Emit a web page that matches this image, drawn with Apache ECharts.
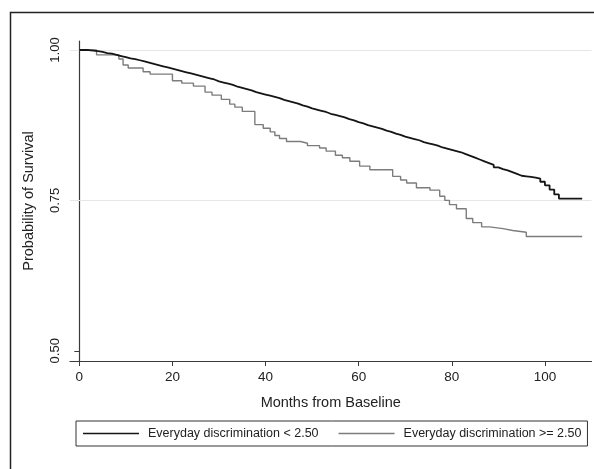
<!DOCTYPE html>
<html>
<head>
<meta charset="utf-8">
<script src="https://cdn.jsdelivr.net/npm/echarts@6/dist/echarts.min.js"></script>
<style>
  html, body { margin: 0; padding: 0; background: #fff; }
  #chart { width: 594px; height: 469px; }
</style>
</head>
<body>
<div id="chart"></div>
<script>
// Everyday discrimination < 2.50 (black)
var lowMonths = [0, 1, 2, 3, 4, 5, 6, 7, 8, 9, 10, 11, 12, 13, 14, 15, 16, 17, 18, 19,
  20, 21, 22, 23, 24, 25, 26, 27, 28, 29, 30, 31, 32, 33, 34, 35, 36, 37, 38, 39,
  40, 41, 42, 43, 44, 45, 46, 47, 48, 49, 50, 51, 52, 53, 54, 55, 56, 57, 58, 59,
  60, 61, 62, 63, 64, 65, 66, 67, 68, 69, 70, 71, 72, 73, 74, 75, 76, 77, 78, 79,
  80, 81, 82, 83, 84, 85, 86, 87, 88, 89, 90, 91, 92, 93, 94, 95, 96, 97, 98, 99,
  100, 101, 102, 103, 108];
var lowSurv = [1.000, 1.000, 0.999, 0.998, 0.997, 0.995, 0.994, 0.992, 0.990, 0.988,
  0.986, 0.985, 0.983, 0.981, 0.979, 0.977, 0.975, 0.973, 0.971, 0.969,
  0.967, 0.965, 0.963, 0.961, 0.959, 0.957, 0.955, 0.953, 0.951, 0.948,
  0.946, 0.944, 0.942, 0.939, 0.937, 0.935, 0.933, 0.930, 0.928, 0.926,
  0.924, 0.922, 0.920, 0.917, 0.915, 0.913, 0.911, 0.908, 0.906, 0.903,
  0.901, 0.899, 0.897, 0.894, 0.892, 0.890, 0.888, 0.885, 0.883, 0.880,
  0.878, 0.875, 0.873, 0.871, 0.869, 0.866, 0.864, 0.861, 0.859, 0.856,
  0.854, 0.852, 0.850, 0.847, 0.845, 0.843, 0.841, 0.838, 0.836, 0.834,
  0.832, 0.830, 0.827, 0.824, 0.821, 0.818, 0.815, 0.812, 0.809, 0.805,
  0.802, 0.800, 0.797, 0.794, 0.791, 0.790, 0.789, 0.788, 0.786, 0.781,
  0.775, 0.768, 0.760, 0.753, 0.753];

// Everyday discrimination >= 2.50 (grey)
var highMonths = [0, 3.7, 8.5, 9.4, 10.5, 13.7, 15.2, 20, 22, 24.5, 27, 28.5, 30.5, 32.3,
  33.4, 35, 37.7, 39.5, 41, 42, 43, 44.5, 47.5, 49, 51.6, 53, 55, 56.5, 58.1, 60.2,
  62.4, 67.3, 69, 70.3, 72.4, 75.3, 77.4, 78.5, 79.5, 81, 83.1, 84.5, 86.4, 88.1,
  91, 93.1, 96, 108];
var highSurv = [1.000, 0.992, 0.985, 0.975, 0.970, 0.964, 0.960, 0.949, 0.945, 0.940,
  0.930, 0.925, 0.918, 0.910, 0.905, 0.898, 0.876, 0.870, 0.864, 0.858,
  0.853, 0.848, 0.845, 0.841, 0.837, 0.832, 0.825, 0.821, 0.815, 0.807,
  0.801, 0.790, 0.784, 0.779, 0.771, 0.767, 0.757, 0.750, 0.743, 0.736,
  0.720, 0.713, 0.706, 0.703, 0.700, 0.697, 0.690, 0.690];

var xTicks = [0, 20, 40, 60, 80, 100];
var yTicks = [0.50, 0.75, 1.00];
var gridValues = [0.75, 1.00];

var seriesNames = ['Everyday discrimination < 2.50', 'Everyday discrimination >= 2.50'];

function pairs(xs, ys) {
  return xs.map(function (x, i) { return [x, ys[i]]; });
}

var font = '"Liberation Sans", Arial, sans-serif';
var axisColor = '#3a3a3a';

var chart = echarts.init(document.getElementById('chart'));
chart.setOption({
  animation: false,
  backgroundColor: '#fff',
  textStyle: { fontFamily: font },
  graphic: [{
    type: 'rect',
    left: 8, top: 10,
    shape: { width: 620, height: 480 },
    style: { fill: 'none', stroke: '#222', lineWidth: 1.5 },
    silent: true
  }],
  grid: { left: 70, right: 2.5, top: 41, bottom: 108 },
  xAxis: {
    type: 'value',
    min: -2, max: 110,
    name: 'Months from Baseline',
    nameLocation: 'middle',
    nameGap: 34,
    nameTextStyle: { fontSize: 14.5, color: '#222', fontFamily: font },
    axisLine: { lineStyle: { color: axisColor, width: 1.2 } },
    axisTick: { customValues: xTicks, length: 5, lineStyle: { color: axisColor } },
    axisLabel: { customValues: xTicks, margin: 9, fontSize: 13.5, color: '#222', fontFamily: font },
    splitLine: { show: false }
  },
  yAxis: {
    type: 'value',
    min: 0.483, max: 1.015,
    name: 'Probability of Survival',
    nameLocation: 'middle',
    nameRotate: 90,
    nameGap: 34,
    nameTextStyle: { fontSize: 14.5, color: '#222', fontFamily: font },
    axisLine: { show: true, lineStyle: { color: axisColor, width: 1.2 } },
    axisTick: { show: true, customValues: yTicks, length: 5, lineStyle: { color: axisColor } },
    axisLabel: {
      customValues: yTicks, rotate: 90, margin: 8, fontSize: 13, color: '#222', fontFamily: font,
      formatter: function (v) { return v.toFixed(2); }
    },
    splitLine: { show: false }
  },
  legend: {
    left: 76, top: 421,
    padding: [6, 6, 6, 7],
    borderColor: '#333', borderWidth: 1,
    itemWidth: 56, itemHeight: 1.5, itemGap: 20,
    icon: 'rect',
    textStyle: { fontSize: 12.5, color: '#222', fontFamily: font, padding: [0, 0, 0, 4] },
    data: seriesNames
  },
  series: [{
    name: seriesNames[0],
    type: 'line',
    step: 'end',
    symbol: 'none',
    color: '#151515',
    lineStyle: { color: '#151515', width: 1.8 },
    data: pairs(lowMonths, lowSurv),
    markLine: {
      silent: true,
      symbol: 'none',
      label: { show: false },
      lineStyle: { color: '#e6e6e6', type: 'solid', width: 1.2 },
      data: gridValues.map(function (v) { return { yAxis: v }; }),
      z: 1
    },
    z: 3
  }, {
    name: seriesNames[1],
    type: 'line',
    step: 'end',
    symbol: 'none',
    color: '#7c7c7c',
    lineStyle: { color: '#7c7c7c', width: 1.4 },
    data: pairs(highMonths, highSurv),
    z: 2
  }]
});
</script>
</body>
</html>
